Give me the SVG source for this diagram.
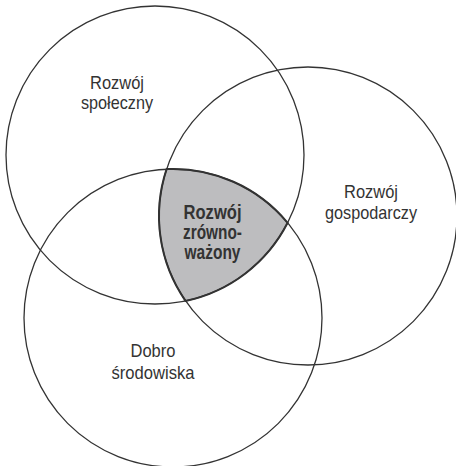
<svg xmlns="http://www.w3.org/2000/svg" width="456" height="466" viewBox="0 0 456 466">
<style>
.c{fill:none;stroke:#333;stroke-width:1.3}
.t{font-family:"Liberation Sans",Arial,sans-serif;font-size:18.5px;fill:#333;text-anchor:middle}
.b{font-weight:bold;font-size:20px}
</style>
<rect width="456" height="466" fill="#fff"/>
<g id="core">
<path d="M166.6,169.1 A149,149 0 0,1 287.6,222.8 A149,149 0 0,1 185.5,300.9 A149,149 0 0,1 166.6,169.1 Z" fill="#bdbdbf" stroke="#333" stroke-width="2"/>
</g>
<g id="social">
<circle class="c" cx="155" cy="155" r="149"/>
<text class="t" x="117" y="89" textLength="54" lengthAdjust="spacingAndGlyphs">Rozwój</text>
<text class="t" x="117" y="109" textLength="72" lengthAdjust="spacingAndGlyphs">społeczny</text>
</g>
<g id="economic">
<circle class="c" cx="308" cy="216" r="149"/>
<text class="t" x="371" y="198" textLength="54" lengthAdjust="spacingAndGlyphs">Rozwój</text>
<text class="t" x="371" y="219" textLength="92" lengthAdjust="spacingAndGlyphs">gospodarczy</text>
</g>
<g id="environment">
<circle class="c" cx="173" cy="318" r="149"/>
<text class="t" x="153" y="357" textLength="45" lengthAdjust="spacingAndGlyphs">Dobro</text>
<text class="t" x="153" y="379" textLength="83" lengthAdjust="spacingAndGlyphs">środowiska</text>
</g>
<g id="sustainable">
<text class="t b" x="212.5" y="218.5" textLength="58" lengthAdjust="spacingAndGlyphs">Rozwój</text>
<text class="t b" x="212.5" y="238.5" textLength="59" lengthAdjust="spacingAndGlyphs">zrówno-</text>
<text class="t b" x="212.5" y="258.5" textLength="56" lengthAdjust="spacingAndGlyphs">ważony</text>
</g>
<g id="connectors"></g>
</svg>
